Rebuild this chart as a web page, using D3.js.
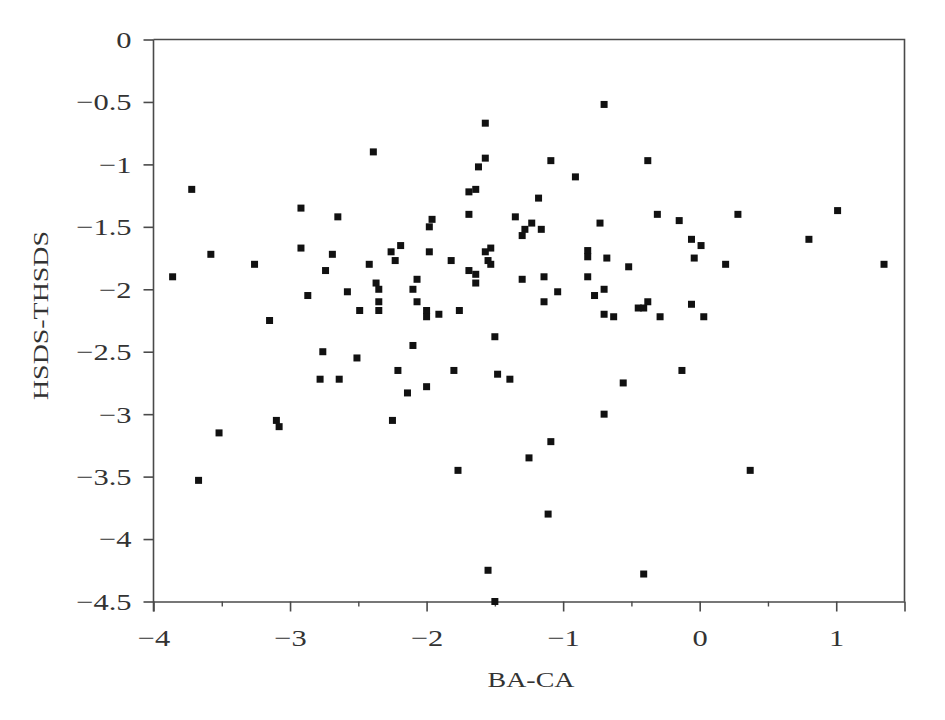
<!DOCTYPE html>
<html>
<head>
<meta charset="utf-8">
<script src="https://cdn.jsdelivr.net/npm/d3@7"></script>
<style>
  html, body { margin: 0; padding: 0; background: #fff; }
  svg { display: block; }
</style>
</head>
<body>
<svg id="chart" width="945" height="720"></svg>
<script>
// ---- Data ----
const xValues = [
  -2.39, -3.72, -2.92, -2.65, -2.92, -3.58, -2.69, -2.19, -2.26, -2.23, -3.26, -2.42, -2.74, -3.86, -2.37, -2.35, -2.87, -2.58, -2.35, -2.49, -2.35, -3.15,
  -0.70, -1.57, -1.57, -1.62, -1.09, -0.38, -0.91, -1.64, -1.69, -1.18, -1.69, -1.96, -1.98, -1.35, -1.23, -1.28, -1.30, -1.16, -0.73, -1.98, -1.82, -1.53, -1.57, -1.55, -1.53, -1.69, -1.64, -1.64, -2.07, -2.10, -2.07, -2.00, -2.00, -1.91, -1.76, -1.30, -1.14, -1.04, -1.14, -0.82, -0.82, -0.68, -0.52, -0.82, -0.70, -0.77, -0.70, -0.63, -0.45, -0.41, -0.38,
  -0.31, -0.15, 0.28, 1.01, -0.06, 0.01, -0.04, 0.19, 0.80, 1.35, -0.06, -0.29, 0.03,
  -2.76, -2.51, -2.78, -2.64, -2.21, -3.10, -3.08, -3.52, -3.67, -2.25,
  -2.10, -1.80, -2.14, -2.00, -1.50, -1.48, -1.39, -0.56, -0.70, -1.09, -1.25, -1.77, -1.11, -1.55, -0.41, -1.50,
  -0.13, 0.37
];
const yValues = [
  -0.90, -1.20, -1.35, -1.42, -1.67, -1.72, -1.72, -1.65, -1.70, -1.77, -1.80, -1.80, -1.85, -1.90, -1.95, -2.00, -2.05, -2.02, -2.10, -2.17, -2.17, -2.25,
  -0.52, -0.67, -0.95, -1.02, -0.97, -0.97, -1.10, -1.20, -1.22, -1.27, -1.40, -1.44, -1.50, -1.42, -1.47, -1.52, -1.57, -1.52, -1.47, -1.70, -1.77, -1.67, -1.70, -1.77, -1.80, -1.85, -1.88, -1.95, -1.92, -2.00, -2.10, -2.17, -2.22, -2.20, -2.17, -1.92, -1.90, -2.02, -2.10, -1.69, -1.74, -1.75, -1.82, -1.90, -2.00, -2.05, -2.20, -2.22, -2.15, -2.15, -2.10,
  -1.40, -1.45, -1.40, -1.37, -1.60, -1.65, -1.75, -1.80, -1.60, -1.80, -2.12, -2.22, -2.22,
  -2.50, -2.55, -2.72, -2.72, -2.65, -3.05, -3.10, -3.15, -3.53, -3.05,
  -2.45, -2.65, -2.83, -2.78, -2.38, -2.68, -2.72, -2.75, -3.00, -3.22, -3.35, -3.45, -3.80, -4.25, -4.28, -4.50,
  -2.65, -3.45
];
const xTicks = [-4, -3, -2, -1, 0, 1];
const xMinorTicks = [-3.5, -2.5, -1.5, -0.5, 0.5];
const yTicks = [0, -0.5, -1, -1.5, -2, -2.5, -3, -3.5, -4, -4.5];
const xLabel = "BA-CA";
const yLabel = "HSDS-THSDS";

// ---- Layout ----
const svg = d3.select("#chart");
const mLeft = 153.5, mRight = 904.5, mTop = 39.5, mBottom = 601.5;
const axisColor = "#4a4a4a";
const font = "'Liberation Serif', 'Times New Roman', serif";
const stretch = 1.27;

const x = d3.scaleLinear().domain([-4, 1.5]).range([mLeft, mRight]);
const y = d3.scaleLinear().domain([-4.5, 0]).range([mBottom, mTop]);

const fmt = d3.format("~g");

// frame (top & right)
svg.append("path")
  .attr("d", `M${mLeft},${mTop}H${mRight}V${mBottom}`)
  .attr("fill", "none").attr("stroke", axisColor).attr("stroke-width", 1.6);

// minor x ticks
const xMinor = svg.append("g").attr("transform", `translate(0,${mBottom})`)
  .call(d3.axisBottom(x).tickValues(xMinorTicks).tickSize(5).tickFormat(""));
xMinor.select(".domain").remove();
xMinor.selectAll("line").attr("stroke", axisColor).attr("stroke-width", 1.4);

// right-edge tick extension
const xEdge = svg.append("g").attr("transform", `translate(0,${mBottom})`)
  .call(d3.axisBottom(x).tickValues([1.5]).tickSize(10).tickFormat(""));
xEdge.select(".domain").remove();
xEdge.selectAll("line").attr("stroke", axisColor).attr("stroke-width", 1.6);

// major x axis
const gx = svg.append("g").attr("transform", `translate(0,${mBottom})`)
  .call(d3.axisBottom(x).tickValues(xTicks).tickSize(10).tickSizeOuter(0).tickFormat(fmt));
gx.select(".domain").attr("stroke", axisColor).attr("stroke-width", 1.6);
gx.selectAll("line").attr("stroke", axisColor).attr("stroke-width", 1.6);
gx.selectAll("text")
  .attr("y", 45).attr("dy", 0).attr("x", 0)
  .attr("transform", `scale(${stretch},1)`)
  .style("font-family", font).style("font-size", "24px").attr("fill", "#333");

// y axis
const gy = svg.append("g").attr("transform", `translate(${mLeft},0)`)
  .call(d3.axisLeft(y).tickValues(yTicks).tickSize(10).tickSizeOuter(10).tickFormat(fmt));
gy.select(".domain").attr("stroke", axisColor).attr("stroke-width", 1.6)
  .attr("d", `M0,${mTop}V${mBottom + 10}`);
gy.selectAll("line").attr("stroke", axisColor).attr("stroke-width", 1.6);
gy.selectAll("text")
  .attr("x", -22 / stretch)
  .attr("dy", "0.33em")
  .attr("transform", `scale(${stretch},1)`)
  .style("font-family", font).style("font-size", "24px").attr("fill", "#333");

// axis titles
svg.append("text")
  .attr("transform", `translate(${(mLeft + mRight) / 2 + 2},687) scale(${stretch},1)`)
  .attr("text-anchor", "middle")
  .style("font-family", font).style("font-size", "22px").attr("fill", "#333")
  .text(xLabel);

svg.append("text")
  .attr("transform", `translate(48,${(mTop + mBottom) / 2 - 5}) rotate(-90) scale(${stretch},1)`)
  .attr("text-anchor", "middle")
  .style("font-family", font).style("font-size", "22px").attr("fill", "#333")
  .text(yLabel);

// points
const pts = xValues.map((v, i) => ({ x: v, y: yValues[i] }));
const s = 7;
svg.append("g").selectAll("rect").data(pts).join("rect")
  .attr("x", d => x(d.x) - s / 2)
  .attr("y", d => y(d.y) - s / 2)
  .attr("width", s).attr("height", s)
  .attr("fill", "#111");
</script>
</body>
</html>
